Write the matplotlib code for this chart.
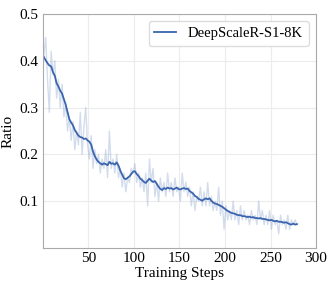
import numpy as np
import matplotlib
matplotlib.use("Agg")
import matplotlib.pyplot as plt

plt.rcParams["font.family"] = ["Liberation Serif", "DejaVu Serif"]

# steps shared by both series (every 2 steps)
steps = list(range(1, 280, 2))

# smoothed ratio
smooth_vals = [0.408, 0.401, 0.395, 0.390, 0.388, 0.376, 0.368, 0.352, 0.345, 0.336,
               0.330, 0.318, 0.306, 0.290, 0.275, 0.268, 0.262, 0.252, 0.246, 0.240,
               0.237, 0.236, 0.233, 0.234, 0.230, 0.227, 0.221, 0.206, 0.196, 0.189,
               0.184, 0.181, 0.178, 0.181, 0.179, 0.177, 0.184, 0.180, 0.181, 0.178,
               0.183, 0.176, 0.165, 0.157, 0.149, 0.147, 0.150, 0.153, 0.158, 0.163,
               0.164, 0.158, 0.154, 0.148, 0.145, 0.141, 0.139, 0.144, 0.148, 0.144,
               0.141, 0.143, 0.137, 0.131, 0.126, 0.124, 0.128, 0.126, 0.129, 0.127,
               0.128, 0.125, 0.127, 0.129, 0.126, 0.125, 0.127, 0.128, 0.126, 0.127,
               0.122, 0.119, 0.116, 0.111, 0.109, 0.105, 0.103, 0.101, 0.104, 0.106,
               0.104, 0.106, 0.101, 0.097, 0.095, 0.094, 0.092, 0.090, 0.088, 0.085,
               0.082, 0.079, 0.077, 0.075, 0.074, 0.073, 0.071, 0.070, 0.070, 0.068,
               0.068, 0.067, 0.066, 0.067, 0.065, 0.066, 0.064, 0.064, 0.063, 0.064,
               0.062, 0.062, 0.061, 0.060, 0.059, 0.060, 0.058, 0.057, 0.058, 0.056,
               0.056, 0.055, 0.054, 0.055, 0.053, 0.051, 0.050, 0.052, 0.050, 0.051]

# raw ratio
raw_vals = [0.41, 0.45, 0.36, 0.29, 0.42, 0.37, 0.40, 0.32, 0.36, 0.30,
            0.35, 0.28, 0.31, 0.25, 0.28, 0.23, 0.27, 0.21, 0.25, 0.22,
            0.29, 0.20, 0.26, 0.30, 0.22, 0.19, 0.24, 0.17, 0.21, 0.18,
            0.20, 0.16, 0.19, 0.17, 0.21, 0.15, 0.25, 0.17, 0.19, 0.16,
            0.20, 0.15, 0.17, 0.13, 0.16, 0.12, 0.15, 0.14, 0.17, 0.16,
            0.18, 0.14, 0.16, 0.13, 0.15, 0.12, 0.16, 0.09, 0.19, 0.14,
            0.17, 0.11, 0.14, 0.10, 0.15, 0.12, 0.14, 0.11, 0.16, 0.12,
            0.14, 0.11, 0.15, 0.12, 0.13, 0.10, 0.16, 0.12, 0.14, 0.11,
            0.13, 0.09, 0.12, 0.08, 0.11, 0.10, 0.13, 0.09, 0.12, 0.09,
            0.14, 0.09, 0.11, 0.08, 0.10, 0.08, 0.13, 0.07, 0.10, 0.04,
            0.09, 0.06, 0.08, 0.06, 0.10, 0.06, 0.08, 0.05, 0.09, 0.06,
            0.08, 0.06, 0.07, 0.05, 0.08, 0.06, 0.07, 0.05, 0.10, 0.06,
            0.08, 0.05, 0.07, 0.05, 0.08, 0.04, 0.07, 0.05, 0.06, 0.03,
            0.07, 0.05, 0.06, 0.04, 0.07, 0.04, 0.06, 0.05, 0.06, 0.05]

fig = plt.figure(figsize=(3.33, 2.86), dpi=100)
ax = fig.add_axes([0.129, 0.133, 0.82, 0.818])

ax.plot(steps, raw_vals, color="#3a64ae", alpha=0.22, linewidth=1.0)
ax.plot(steps, smooth_vals, color="#3a64ae", linewidth=1.3, label="DeepScaleR-S1-8K")

ax.set_xlim(0, 300)
ax.set_ylim(0, 0.5)
ax.set_xticks([50, 100, 150, 200, 250, 300])
ax.set_yticks([0.1, 0.2, 0.3, 0.4, 0.5])
ax.tick_params(length=0, labelsize=11, pad=3)
ax.grid(True, color="#ececec", linewidth=0.8)
ax.set_axisbelow(True)
for s in ax.spines.values():
    s.set_color("#aaaaaa")
    s.set_linewidth(0.8)

ax.set_xlabel("Training Steps", fontsize=11, labelpad=1)
ax.set_ylabel("Ratio", fontsize=11, labelpad=4)
ax.legend(loc="upper right", fontsize=10.5, handlelength=1.5, fancybox=True,
          edgecolor="#dddddd", framealpha=1)

fig.savefig("out.png", dpi=100)
